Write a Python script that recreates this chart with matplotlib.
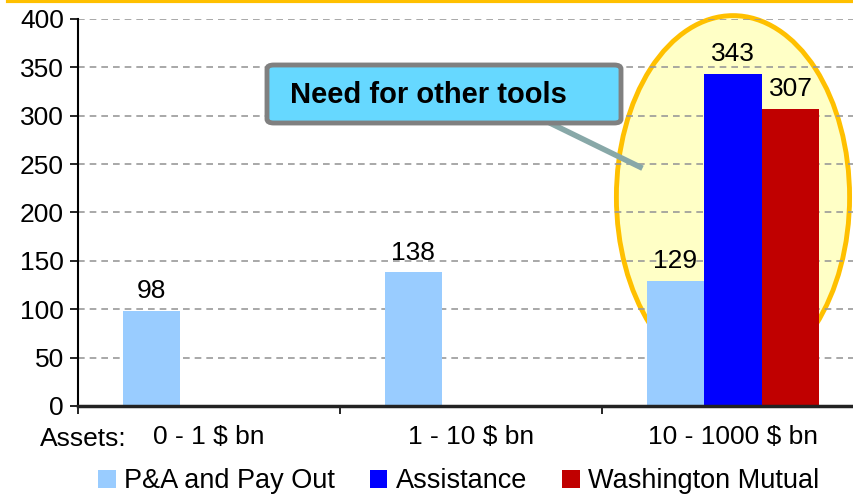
import numpy as np
import matplotlib.pyplot as plt
from matplotlib.patches import Ellipse, FancyBboxPatch
from matplotlib.lines import Line2D

plt.rcParams['font.family'] = ['Liberation Sans', 'DejaVu Sans']

# dados
grupos = ['0 - 1 $ bn', '1 - 10 $ bn', '10 - 1000 $ bn']
series = ['P&A and Pay Out', 'Assistance', 'Washington Mutual']
pa_payout = [98, 138, 129]
assistance = [None, None, 343]
washington = [None, None, 307]
cores = ['#99CCFF', '#0000FF', '#C00000']

fig = plt.figure(figsize=(8.54, 4.96), dpi=100)
ax = fig.add_axes([0.0913, 0.1815, 0.9204, 0.7802])

x = np.arange(len(grupos))
largura = 0.22

# elipse de destaque atrás das barras
elipse = Ellipse((2, 216), 0.89, 375, facecolor='#FFFFC6', edgecolor='#FFC000',
                 lw=3.5, zorder=0.2, clip_on=False)
ax.add_patch(elipse)

valores = [pa_payout, assistance, washington]
for k, (nome, vals, cor) in enumerate(zip(series, valores, cores)):
    xs = [x[i] + (k - 1) * largura for i in range(len(vals)) if vals[i] is not None]
    vs = [v for v in vals if v is not None]
    ax.bar(xs, vs, largura, color=cor, label=nome, zorder=2)
    for xi, v in zip(xs, vs):
        ax.text(xi, v + 8, str(v), ha='center', va='bottom', fontsize=19, zorder=3)

ax.set_xlim(-0.5, 2.5)
ax.set_ylim(0, 400)
ax.set_yticks(range(0, 401, 50))
ax.set_xticks([-0.5, 0.5, 1.5, 2.5])
ax.set_xticklabels([])
ax.tick_params(axis='y', labelsize=19, length=6, width=1.2, direction='out', pad=4)
ax.tick_params(axis='x', length=6, width=1.2, direction='out')
ax.set_axisbelow(True)
ax.yaxis.grid(True, linestyle=(0, (4, 3)), color='#999999', lw=1.2)

for s in ['top', 'right']:
    ax.spines[s].set_visible(False)
ax.spines['left'].set_linewidth(1.5)
ax.spines['bottom'].set_linewidth(2.5)
ax.spines['bottom'].set_color('#222222')

# rótulos dos grupos
for i, g in enumerate(grupos):
    ax.text(x[i], -20, g, ha='center', va='top', fontsize=19, clip_on=False)
fig.text(40 / 854, 1 - 439 / 496, 'Assets:', ha='left', va='center', fontsize=19)

# caixa de texto
caixa = FancyBboxPatch((267 / 854, 1 - 123 / 496), 354 / 854, 58 / 496,
                       boxstyle='round,pad=0,rounding_size=0.008', transform=fig.transFigure,
                       facecolor='#66D8FF', edgecolor='#808080', lw=3.5, zorder=5)
fig.add_artist(caixa)
fig.add_artist(Line2D([552 / 854, 640 / 854], [1 - 124 / 496, 1 - 167 / 496],
                      transform=fig.transFigure, color='#88A8A8', lw=4, zorder=4))
fig.text(290 / 854, 1 - 95 / 496, 'Need for other tools', fontsize=21, fontweight='bold',
         ha='left', va='center', zorder=6)

# linha amarela no topo
fig.add_artist(Line2D([8 / 854, 1], [0.998, 0.998], transform=fig.transFigure,
                      color='#FFC000', lw=3))

leg = fig.legend(loc='lower center', bbox_to_anchor=(0.537, -0.046), ncol=3, frameon=False,
                 fontsize=19.5, handlelength=0.65, handleheight=0.65, handletextpad=0.3,
                 columnspacing=1.3)

fig.savefig('out.png', dpi=100)
